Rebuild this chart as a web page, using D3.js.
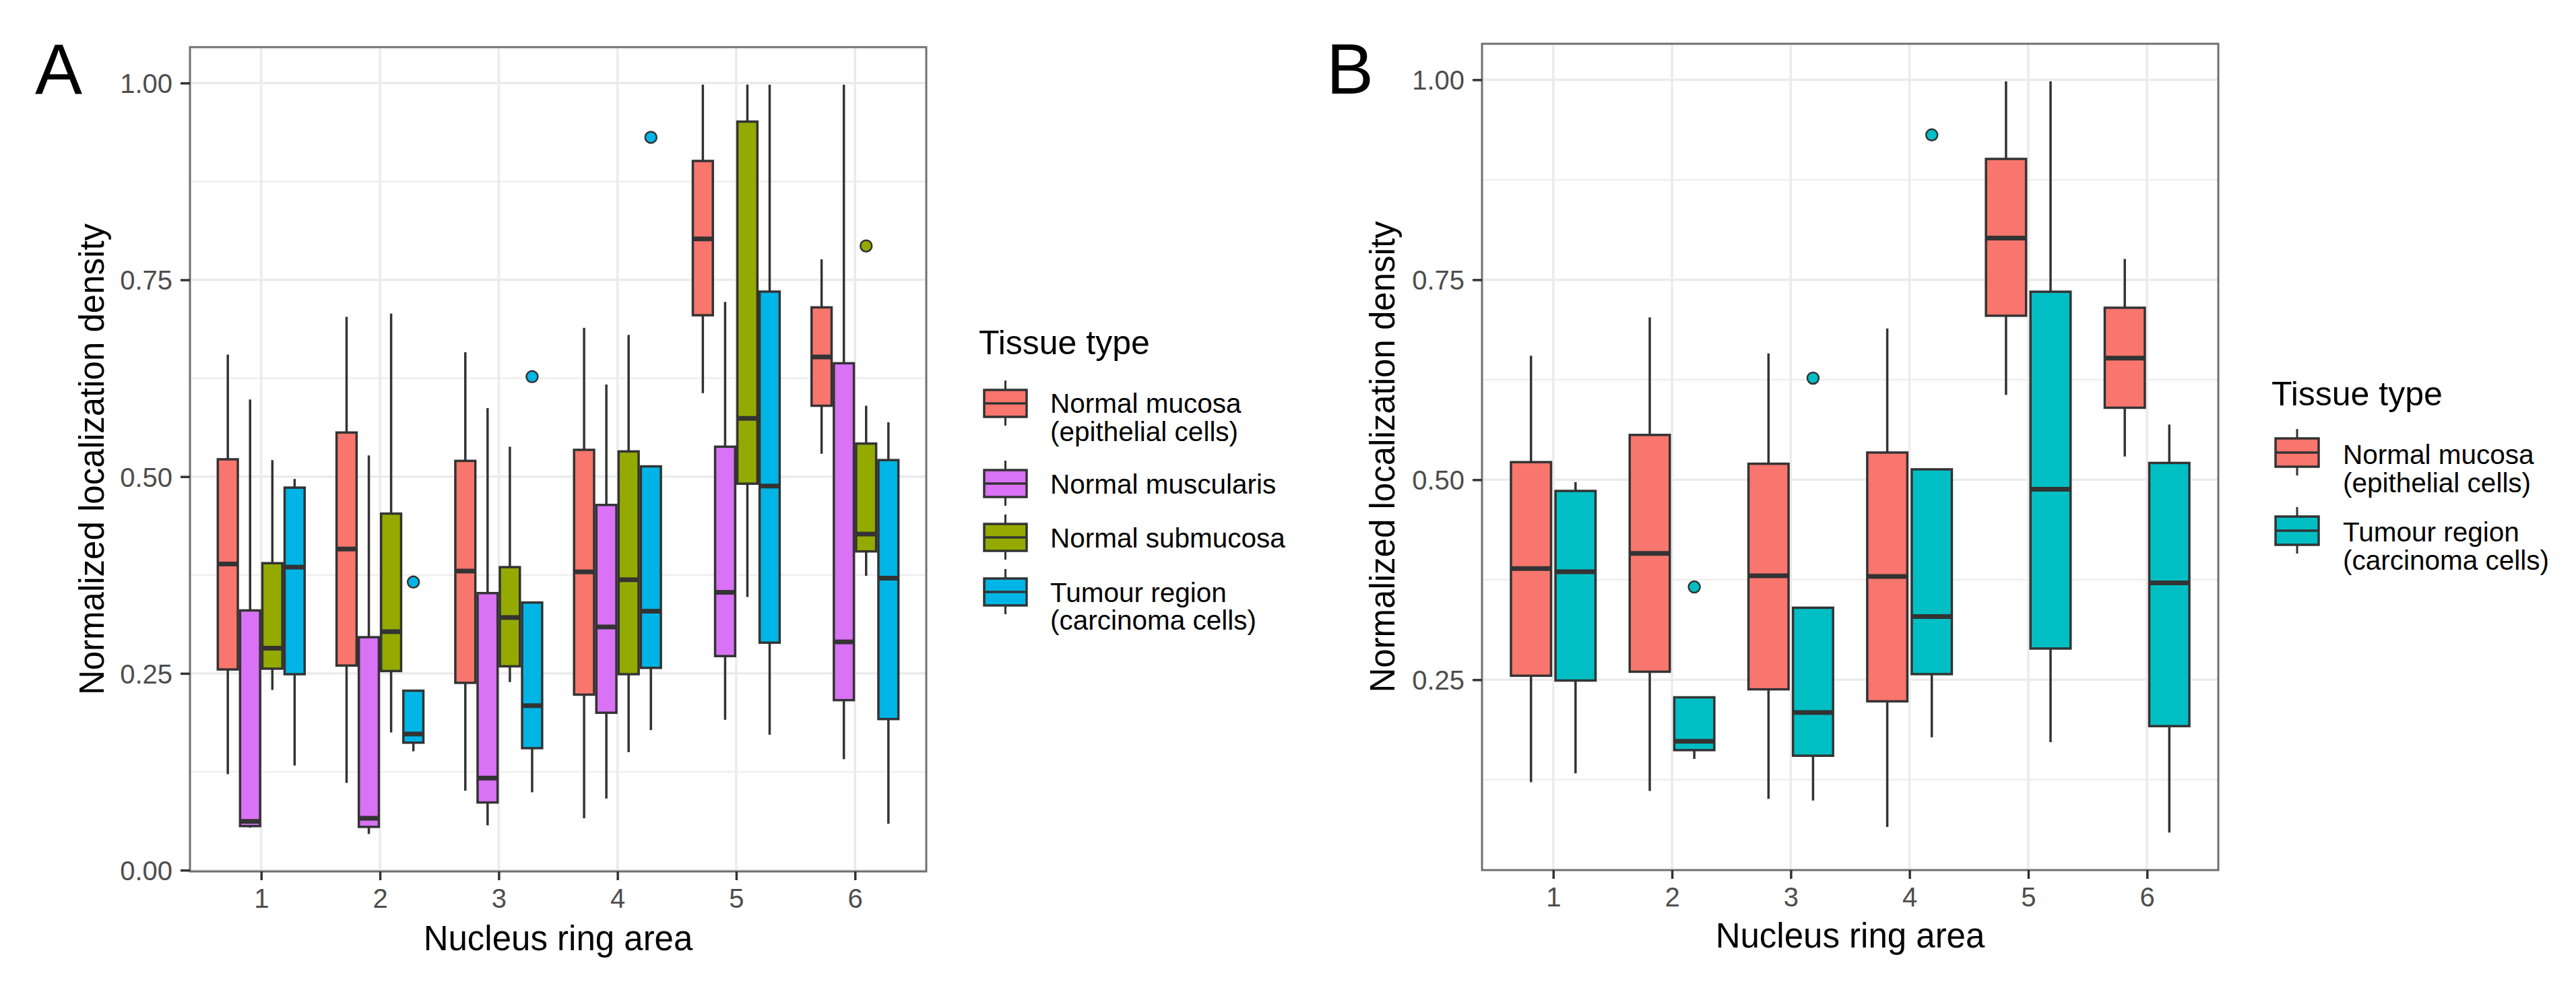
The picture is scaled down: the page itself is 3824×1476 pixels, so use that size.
<!DOCTYPE html>
<html><head><meta charset="utf-8">
<script src="https://cdn.jsdelivr.net/npm/d3@7"></script>
<style>body{margin:0;background:#fff} text{font-family:"Liberation Sans",Arial,Helvetica,sans-serif}</style>
</head><body>
<svg id="chart" width="3824" height="1476" xmlns="http://www.w3.org/2000/svg"></svg>
<script>
// ---------------- data ----------------
const rings = ["1", "2", "3", "4", "5", "6"];
const tissueKeys = ["mucosa", "muscularis", "submucosa", "tumour"];
const tissueLabels = [
  ["Normal mucosa", "(epithelial cells)"],
  ["Normal muscularis"],
  ["Normal submucosa"],
  ["Tumour region", "(carcinoma cells)"]
];
// each entry per ring: [lower whisker, Q1, median, Q3, upper whisker]
const mucosa = [
  [0.122, 0.255, 0.389, 0.522, 0.655],
  [0.111, 0.260, 0.408, 0.556, 0.703],
  [0.101, 0.238, 0.380, 0.520, 0.658],
  [0.066, 0.223, 0.379, 0.534, 0.689],
  [0.606, 0.705, 0.802, 0.901, 0.998],
  [0.529, 0.590, 0.652, 0.715, 0.776]
];
const muscularis = [
  [0.054, 0.056, 0.062, 0.330, 0.598],
  [0.046, 0.055, 0.066, 0.296, 0.527],
  [0.057, 0.086, 0.117, 0.352, 0.587],
  [0.091, 0.200, 0.309, 0.464, 0.617],
  [0.191, 0.272, 0.353, 0.538, 0.722],
  [0.141, 0.216, 0.290, 0.644, 0.998]
];
const submucosa = [
  [0.229, 0.256, 0.282, 0.390, 0.521],
  [0.175, 0.253, 0.303, 0.453, 0.707],
  [0.239, 0.259, 0.321, 0.385, 0.538],
  [0.150, 0.249, 0.369, 0.532, 0.680],
  [0.347, 0.491, 0.574, 0.951, 0.998],
  [0.374, 0.405, 0.427, 0.542, 0.590]
];
const tumour = [
  [0.133, 0.249, 0.385, 0.486, 0.497],
  [0.151, 0.162, 0.173, 0.228, 0.229],
  [0.099, 0.155, 0.209, 0.340, 0.341],
  [0.178, 0.257, 0.329, 0.513, 0.514],
  [0.172, 0.289, 0.488, 0.735, 0.998],
  [0.059, 0.192, 0.371, 0.521, 0.569]
];
const outlierTissue = ["tumour", "tumour", "tumour", "submucosa"];
const outlierRing = ["2", "3", "4", "6"];
const outlierValue = [0.366, 0.627, 0.931, 0.793];

const yTicksA = [0, 0.25, 0.5, 0.75, 1];
const yTicksB = [0.25, 0.5, 0.75, 1];
const minorTicks = [0.125, 0.375, 0.625, 0.875];

const paletteA = ["#F8766D", "#D972F5", "#94AA00", "#00B5E6"];
const paletteB = ["#F8766D", "#00BFC4"];

const seriesByKey = {mucosa, muscularis, submucosa, tumour};

// ---------------- drawing ----------------
const svg = d3.select("#chart");
svg.append("rect").attr("width", 3824).attr("height", 1476).attr("fill", "#fff");

const INK = "#333333";

function drawPanel(o) {
  const g = svg.append("g");
  const keys = o.keys;
  const colour = d3.scaleOrdinal().domain(keys).range(o.palette);
  const outl = outlierValue.map((v, i) => ({tissue: outlierTissue[i], ring: outlierRing[i], value: v}))
    .filter(d => keys.includes(d.tissue));
  const vals = keys.flatMap(k => seriesByKey[k].flat()).concat(outl.map(d => d.value));
  const [mn, mx] = d3.extent(vals);
  const pad = (mx - mn) * 0.05;
  const y = d3.scaleLinear().domain([mn - pad, mx + pad]).range([o.bottom, o.top]);
  const x = d3.scalePoint().domain(rings).range([o.left, o.right]).padding(0.6);
  const dodge = d3.scaleBand().domain(keys).range([-0.375 * x.step(), 0.375 * x.step()]);
  const bw = dodge.bandwidth() * 0.9;
  const cx = (ring, k) => x(ring) + dodge(k) + dodge.bandwidth() / 2;

  // grid
  const grid = g.append("g");
  grid.selectAll(".minor").data(minorTicks.filter(v => v > y.domain()[0] && v < y.domain()[1]))
    .join("line").attr("x1", o.left).attr("x2", o.right)
    .attr("y1", d => y(d)).attr("y2", d => y(d))
    .attr("stroke", "#EEEEEE").attr("stroke-width", 2.5);
  grid.selectAll(".major").data(o.yTicks).join("line").attr("x1", o.left).attr("x2", o.right)
    .attr("y1", d => y(d)).attr("y2", d => y(d))
    .attr("stroke", "#EBEBEB").attr("stroke-width", 3.5);
  grid.selectAll(".vmajor").data(rings).join("line").attr("y1", o.top).attr("y2", o.bottom)
    .attr("x1", d => x(d)).attr("x2", d => x(d))
    .attr("stroke", "#EBEBEB").attr("stroke-width", 3.5);

  // boxes
  const boxes = [];
  keys.forEach(k => seriesByKey[k].forEach((s, i) => boxes.push({k, ring: rings[i], s})));
  const bg = g.append("g");
  const bsel = bg.selectAll("g.box").data(boxes).join("g");
  bsel.append("line").attr("x1", d => cx(d.ring, d.k)).attr("x2", d => cx(d.ring, d.k))
    .attr("y1", d => y(d.s[4])).attr("y2", d => y(d.s[3]))
    .attr("stroke", INK).attr("stroke-width", 3.5);
  bsel.append("line").attr("x1", d => cx(d.ring, d.k)).attr("x2", d => cx(d.ring, d.k))
    .attr("y1", d => y(d.s[1])).attr("y2", d => y(d.s[0]))
    .attr("stroke", INK).attr("stroke-width", 3.5);
  bsel.append("rect").attr("x", d => cx(d.ring, d.k) - bw / 2).attr("width", bw)
    .attr("y", d => y(d.s[3])).attr("height", d => y(d.s[1]) - y(d.s[3]))
    .attr("fill", d => colour(d.k)).attr("stroke", INK).attr("stroke-width", 3.5);
  bsel.append("line").attr("x1", d => cx(d.ring, d.k) - bw / 2).attr("x2", d => cx(d.ring, d.k) + bw / 2)
    .attr("y1", d => y(d.s[2])).attr("y2", d => y(d.s[2]))
    .attr("stroke", INK).attr("stroke-width", 7);

  // outliers
  g.append("g").selectAll("circle").data(outl).join("circle")
    .attr("cx", d => cx(d.ring, d.tissue)).attr("cy", d => y(d.value)).attr("r", 8.5)
    .attr("fill", d => colour(d.tissue)).attr("stroke", INK).attr("stroke-width", 2.5);

  // border
  g.append("rect").attr("x", o.left).attr("y", o.top).attr("width", o.right - o.left)
    .attr("height", o.bottom - o.top).attr("fill", "none").attr("stroke", "#707070").attr("stroke-width", 3);

  // axes
  const ya = g.append("g").attr("transform", `translate(${o.left},0)`)
    .call(d3.axisLeft(y).tickValues(o.yTicks).tickFormat(d3.format(".2f")).tickSize(14).tickPadding(12));
  const xa = g.append("g").attr("transform", `translate(0,${o.bottom})`)
    .call(d3.axisBottom(x).tickSize(13).tickPadding(12));
  [ya, xa].forEach(a => {
    a.select(".domain").remove();
    a.selectAll(".tick line").attr("stroke", INK).attr("stroke-width", 3.5);
    a.selectAll(".tick text").attr("fill", "#4D4D4D").style("font-size", "40px")
      .style("font-family", '"Liberation Sans",Arial,sans-serif');
  });
  ya.selectAll(".tick text").attr("dy", "0.36em");
  xa.selectAll(".tick text").attr("dy", "0.72em");

  // axis titles
  g.append("text").attr("x", (o.left + o.right) / 2).attr("y", o.xTitleY)
    .attr("text-anchor", "middle").style("font-size", "51px").attr("fill", "#000")
    .text("Nucleus ring area");
  g.append("text").attr("transform", `translate(${o.yTitleX},${(o.top + o.bottom) / 2}) rotate(-90)`)
    .attr("text-anchor", "middle").style("font-size", "51px").attr("fill", "#000")
    .text("Normalized localization density");

  // panel letter
  g.append("text").attr("x", o.letterX).attr("y", 139).style("font-size", "105px").attr("fill", "#000")
    .text(o.letter);

  // legend
  const L = o.legend;
  const lg = g.append("g");
  lg.append("text").attr("x", L.titleX).attr("y", L.titleY).style("font-size", "50px").attr("fill", "#000")
    .text("Tissue type");
  keys.forEach((k, i) => {
    const cy = L.rows[i];
    const kx = L.keyX, kw = L.keyW, kh = L.keyH;
    const mid = kx + kw / 2;
    lg.append("line").attr("x1", mid).attr("x2", mid).attr("y1", cy - kh / 2 - 14).attr("y2", cy + kh / 2 + 13)
      .attr("stroke", INK).attr("stroke-width", 3);
    lg.append("rect").attr("x", kx).attr("y", cy - kh / 2).attr("width", kw).attr("height", kh)
      .attr("fill", colour(k)).attr("stroke", INK).attr("stroke-width", 3.5);
    lg.append("line").attr("x1", kx).attr("x2", kx + kw).attr("y1", cy).attr("y2", cy)
      .attr("stroke", INK).attr("stroke-width", 3.5);
    const lines = tissueLabels[tissueKeys.indexOf(k)];
    lines.forEach((t, j) => {
      lg.append("text").attr("x", L.labelX).attr("y", L.baselines[i][j])
        .style("font-size", "40.5px").attr("fill", "#000").text(t);
    });
  });
}

drawPanel({
  keys: tissueKeys, palette: paletteA, yTicks: yTicksA,
  left: 282, right: 1375, top: 70, bottom: 1294,
  xTitleY: 1411, yTitleX: 154, letter: "A", letterX: 52,
  legend: {titleX: 1453, titleY: 526, keyX: 1461, keyW: 63, keyH: 40,
    rows: [599, 718, 798, 879], labelX: 1559,
    baselines: [[613, 655], [733], [813], [894, 935]]}
});
drawPanel({
  keys: ["mucosa", "tumour"], palette: paletteB, yTicks: yTicksB,
  left: 2200, right: 3293, top: 65, bottom: 1292,
  xTitleY: 1407, yTitleX: 2070, letter: "B", letterX: 1969,
  legend: {titleX: 3372, titleY: 602, keyX: 3378, keyW: 64, keyH: 42,
    rows: [672, 788], labelX: 3478,
    baselines: [[689, 731], [804, 846]]}
});
</script>
</body></html>
